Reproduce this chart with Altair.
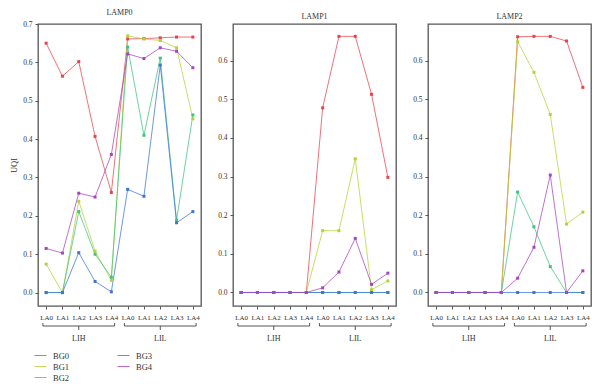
import json
import altair as alt
import pandas as pd

lamps = ["LAMP0", "LAMP1", "LAMP2"]
series = ["BG0", "BG1", "BG2", "BG3", "BG4"]
la_labels = ["LA0", "LA1", "LA2", "LA3", "LA4"]
groups = ["LIH", "LIL"]
colors = ["#E8434B", "#B5D334", "#3DC47E", "#3F74D6", "#A744BF"]

# values: 5 LIH points then 5 LIL points
lamp0_bg0 = [0.650, 0.564, 0.602, 0.407, 0.261, 0.661, 0.662, 0.664, 0.666, 0.666]
lamp0_bg1 = [0.074, 0.000, 0.238, 0.108, 0.032, 0.669, 0.661, 0.657, 0.638, 0.453]
lamp0_bg2 = [0.000, 0.000, 0.211, 0.100, 0.040, 0.640, 0.410, 0.611, 0.189, 0.463]
lamp0_bg3 = [0.000, 0.000, 0.104, 0.029, 0.002, 0.269, 0.251, 0.593, 0.182, 0.211]
lamp0_bg4 = [0.115, 0.103, 0.259, 0.249, 0.360, 0.622, 0.610, 0.638, 0.629, 0.586]

lamp1_bg0 = [0.000, 0.000, 0.000, 0.000, 0.000, 0.478, 0.663, 0.663, 0.513, 0.298]
lamp1_bg1 = [0.000, 0.000, 0.000, 0.000, 0.000, 0.160, 0.160, 0.346, 0.007, 0.030]
lamp1_bg2 = [0.000, 0.000, 0.000, 0.000, 0.000, 0.000, 0.000, 0.000, 0.000, 0.000]
lamp1_bg3 = [0.000, 0.000, 0.000, 0.000, 0.000, 0.000, 0.000, 0.000, 0.000, 0.000]
lamp1_bg4 = [0.000, 0.000, 0.000, 0.000, 0.000, 0.012, 0.053, 0.140, 0.021, 0.050]

lamp2_bg0 = [0.000, 0.000, 0.000, 0.000, 0.000, 0.662, 0.663, 0.663, 0.651, 0.531]
lamp2_bg1 = [0.000, 0.000, 0.000, 0.000, 0.000, 0.649, 0.570, 0.461, 0.177, 0.208]
lamp2_bg2 = [0.000, 0.000, 0.000, 0.000, 0.000, 0.260, 0.170, 0.067, 0.000, 0.000]
lamp2_bg3 = [0.000, 0.000, 0.000, 0.000, 0.000, 0.000, 0.000, 0.000, 0.000, 0.000]
lamp2_bg4 = [0.000, 0.000, 0.000, 0.000, 0.000, 0.037, 0.117, 0.304, 0.000, 0.056]

y_tops = [0.70, 0.695, 0.695]
y_ticks = [[0.0, 0.1, 0.2, 0.3, 0.4, 0.5, 0.6, 0.7],
           [0.0, 0.1, 0.2, 0.3, 0.4, 0.5, 0.6],
           [0.0, 0.1, 0.2, 0.3, 0.4, 0.5, 0.6]]

all_values = {
    "LAMP0": [lamp0_bg0, lamp0_bg1, lamp0_bg2, lamp0_bg3, lamp0_bg4],
    "LAMP1": [lamp1_bg0, lamp1_bg1, lamp1_bg2, lamp1_bg3, lamp1_bg4],
    "LAMP2": [lamp2_bg0, lamp2_bg1, lamp2_bg2, lamp2_bg3, lamp2_bg4],
}

rows = []
for lamp in lamps:
    for s, vals in zip(series, all_values[lamp]):
        for i, v in enumerate(vals):
            rows.append({"lamp": lamp, "series": s, "idx": i, "value": v})
df = pd.DataFrame(rows)

n_la = len(la_labels)
grp_rows = []
end_rows = []
for g, name in enumerate(groups):
    start = g * n_la - 0.2
    end = g * n_la + n_la - 1 + 0.2
    center = g * n_la + (n_la - 1) / 2
    grp_rows.append({"group": name, "start": start, "end": end, "center": center})
    end_rows.append({"pos": start})
    end_rows.append({"pos": end})
grp_df = pd.DataFrame(grp_rows)
end_df = pd.DataFrame(end_rows)

FONT = "Liberation Serif"
TXT = "#333333"
W, H = 163, 282
label_expr = json.dumps(la_labels) + "[datum.value % " + str(n_la) + "]"

xscale = alt.Scale(domain=[-0.5, 2 * n_la - 0.5], nice=False, zero=False)
xaxis = alt.Axis(values=list(range(2 * n_la)), labelExpr=label_expr, title=None,
                 grid=False, domain=False, tickSize=3, tickColor="#555555",
                 labelFont=FONT, labelFontSize=7, labelColor=TXT, labelPadding=4,
                 labelOverlap=False, labelFlush=False)


def panel(k, lamp):
    d = df[df["lamp"] == lamp]
    yaxis = alt.Axis(values=y_ticks[k], format=".1f",
                     title="UQI" if k == 0 else None,
                     titleFont=FONT, titleFontSize=8.5, titleFontWeight="normal",
                     titleColor=TXT, titlePadding=4,
                     grid=False, domain=False, tickSize=3, tickColor="#555555",
                     labelFont=FONT, labelFontSize=7.5, labelColor=TXT, labelPadding=3,
                     labelOverlap=False, labelFlush=False)
    yscale = alt.Scale(domain=[-0.035, y_tops[k]], nice=False, zero=False)
    x = alt.X("idx:Q", scale=xscale, axis=xaxis)
    y = alt.Y("value:Q", scale=yscale, axis=yaxis)
    color = alt.Color("series:N", scale=alt.Scale(domain=series, range=colors),
                      legend=alt.Legend(title=None, orient="none", legendX=-4, legendY=H + 43,
                                        columns=2,
                                        symbolType="stroke", symbolSize=144, symbolStrokeWidth=1,
                                        symbolOpacity=0.8, labelFont=FONT, labelFontSize=8.5,
                                        labelColor=TXT, labelOffset=6, columnPadding=45,
                                        rowPadding=0))
    fill = alt.Fill("series:N", scale=alt.Scale(domain=series, range=colors), legend=None)

    base = alt.Chart(d)
    lines = base.mark_line(strokeWidth=1, opacity=0.75).encode(x=x, y=y, color=color)
    pts = base.mark_square(size=9, opacity=1).encode(x=x, y=y, fill=fill)

    gbase = alt.Chart(grp_df)
    hline = gbase.mark_rule(color="#444444", strokeWidth=0.9).encode(
        x=alt.X("start:Q", scale=xscale, axis=xaxis), x2="end:Q", y=alt.value(H + 20))
    ctick = gbase.mark_rule(color="#444444", strokeWidth=0.9).encode(
        x=alt.X("center:Q", scale=xscale, axis=xaxis), y=alt.value(H + 20), y2=alt.value(H + 24))
    gtext = gbase.mark_text(font=FONT, fontSize=8, color=TXT, baseline="middle").encode(
        x=alt.X("center:Q", scale=xscale, axis=xaxis), y=alt.value(H + 33), text="group:N")
    hooks = alt.Chart(end_df).mark_rule(color="#444444", strokeWidth=0.9).encode(
        x=alt.X("pos:Q", scale=xscale, axis=xaxis), y=alt.value(H + 17), y2=alt.value(H + 20))

    return alt.layer(lines, pts, hline, ctick, hooks, gtext).properties(
        width=W, height=H,
        title=alt.TitleParams(lamp, font=FONT, fontSize=8, fontWeight="normal",
                              color=TXT, offset=3))


chart = alt.hconcat(*[panel(k, l) for k, l in enumerate(lamps)], spacing=32,
                    bounds="flush").properties(
    padding={"left": 0, "top": 0, "right": 0, "bottom": 0}
).configure_view(stroke="#555555", strokeWidth=1.3)

chart.save("out.html", embed_options={"renderer": "svg", "actions": False})
